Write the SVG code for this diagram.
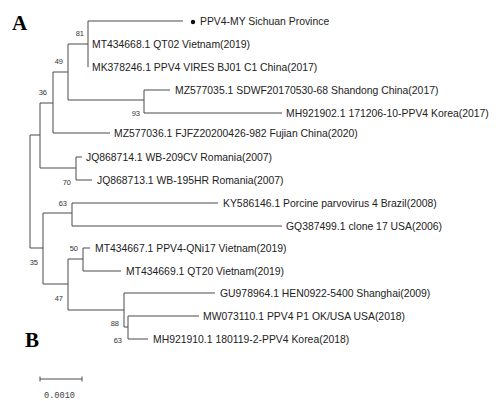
<svg xmlns="http://www.w3.org/2000/svg" width="496" height="401" viewBox="0 0 496 401">
<style>
.br{fill:none;stroke:#4a4a4a;stroke-width:1}
.lf{font-family:"Liberation Sans",Arial,sans-serif;font-size:10.4px;fill:#222}
.bs{font-family:"Liberation Sans",Arial,sans-serif;font-size:7.5px;fill:#333;text-anchor:end}
.pl{font-family:"Liberation Serif","Times New Roman",serif;font-size:21px;font-weight:bold;fill:#000}
</style>
<rect width="496" height="401" fill="#fff"/>
<g id="connectors">
<path class="br" d="M30,135V248 M30,135H40 M40,103V168 M40,103H53 M53,72V133 M53,72H68 M68,44V100 M68,44H88 M88,21V67 M88,21H183 M68,100H144 M144,90V113 M144,90H170 M144,113H282 M53,133H110 M40,168H76 M76,157V180 M76,157H82 M76,180H92"/>
<path class="br" d="M30,248H43 M43,213V284 M43,213H72 M72,203V226 M72,203H218 M72,226H282 M43,284H68 M68,259V310 M68,259H83 M83,248V271 M83,248H90 M83,271H121 M68,310H124 M124,293V327 M124,293H215 M124,327H128 M128,316V339 M128,316H199 M128,339H148"/>
</g>
<g id="labels">
<text class="pl" x="12" y="30">A</text>
<text class="pl" x="25" y="347">B</text>
</g>
<g id="leaf1"><circle cx="193" cy="22" r="2.2" fill="#111"/><text class="lf" x="200" y="25">PPV4-MY Sichuan Province</text></g>
<g id="leaf2"><text class="lf" x="92" y="48">MT434668.1 QT02 Vietnam(2019)</text></g>
<g id="leaf3"><text class="lf" x="92" y="71">MK378246.1 PPV4 VIRES BJ01 C1 China(2017)</text></g>
<g id="leaf4"><text class="lf" x="175" y="94">MZ577035.1 SDWF20170530-68 Shandong China(2017)</text></g>
<g id="leaf5"><text class="lf" x="286" y="117">MH921902.1 171206-10-PPV4 Korea(2017)</text></g>
<g id="leaf6"><text class="lf" x="114" y="137">MZ577036.1 FJFZ20200426-982 Fujian China(2020)</text></g>
<g id="leaf7"><text class="lf" x="86" y="161">JQ868714.1 WB-209CV Romania(2007)</text></g>
<g id="leaf8"><text class="lf" x="97" y="184">JQ868713.1 WB-195HR Romania(2007)</text></g>
<g id="leaf9"><text class="lf" x="223" y="207">KY586146.1 Porcine parvovirus 4 Brazil(2008)</text></g>
<g id="leaf10"><text class="lf" x="286" y="230">GQ387499.1 clone 17 USA(2006)</text></g>
<g id="leaf11"><text class="lf" x="95" y="252">MT434667.1 PPV4-QNi17 Vietnam(2019)</text></g>
<g id="leaf12"><text class="lf" x="126" y="275">MT434669.1 QT20 Vietnam(2019)</text></g>
<g id="leaf13"><text class="lf" x="220" y="297">GU978964.1 HEN0922-5400 Shanghai(2009)</text></g>
<g id="leaf14"><text class="lf" x="203" y="320">MW073110.1 PPV4 P1 OK/USA USA(2018)</text></g>
<g id="leaf15"><text class="lf" x="153" y="343">MH921910.1 180119-2-PPV4 Korea(2018)</text></g>
<g id="bootstrap">
<text class="bs" x="84" y="36">81</text>
<text class="bs" x="63" y="64">49</text>
<text class="bs" x="47" y="95">36</text>
<text class="bs" x="140" y="116">93</text>
<text class="bs" x="71" y="185">70</text>
<text class="bs" x="67" y="206">63</text>
<text class="bs" x="78" y="251">50</text>
<text class="bs" x="38" y="265">35</text>
<text class="bs" x="63" y="301">47</text>
<text class="bs" x="119" y="326">88</text>
<text class="bs" x="122" y="343">63</text>
</g>
<g id="scalebar">
<path class="br" d="M40,379H82 M40,376.5V381.5 M82,376.5V381.5"/>
<text x="44" y="397.5" style="font-family:'Liberation Mono','Courier New',monospace;font-size:8.6px;fill:#444">0.0010</text>
</g>
</svg>
